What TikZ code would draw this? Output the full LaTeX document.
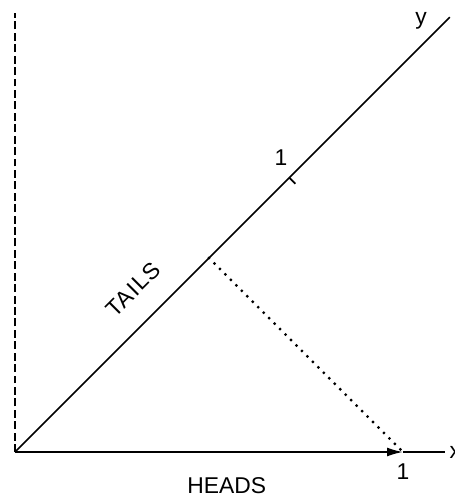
\documentclass[tikz,border=0pt]{standalone}
\usepackage{fontspec}
\setmainfont{Liberation Sans}
\usetikzlibrary{arrows.meta,positioning}

\begin{document}
\begin{tikzpicture}[
  x=7.76cm, y=7.76cm,
  >={Latex[length=3.2mm,width=1.8mm]},
  font=\fontsize{13}{15}\selectfont,
  axis/.style={line width=1pt},
  guide/.style={line width=1.1pt,dash pattern=on 4.5pt off 2pt},
  proj/.style={line width=1.8pt,line cap=round,dash pattern=on 0pt off 4.4pt},
  axislabel/.style={inner sep=1pt},
  numlabel/.style={inner sep=1pt}
]
\useasboundingbox (-0.3cm,-0.94cm) rectangle (8.78cm,9.04cm);

\coordinate (origin) at (0,0);
\coordinate (unitx) at (1,0);
\coordinate (xend) at (8.6cm,0);
\coordinate (vtop) at (0,8.78cm);
\coordinate (yend) at (45:1.585);
\coordinate (tick1) at (45:1);
\coordinate (tickend) at ([shift={(-45:0.17cm)}]tick1);
\coordinate (foot) at (45:0.7071);

\draw[guide] (origin) -- (vtop);
\draw[axis,->] (origin) -- node[axislabel,pos=0.546,below=0.46cm] (heads) {HEADS} (unitx);
\draw[axis] (unitx) -- (xend);
\draw[axis] (origin) -- node[axislabel,sloped,pos=0.323,above=0.41cm] (tails) {\addfontfeatures{LetterSpace=6}TAILS} (yend);
\draw[axis] (tick1) -- (tickend);
\draw[proj] (foot) -- (unitx);

\node[numlabel,below=0.2cm of unitx] (onex) {1};
\node[numlabel,above left=0.2cm and 0cm of tick1] (oney) {1};
\node[axislabel,left=0.42cm of yend,yshift=-0.08cm] (ylabel) {y};
\node[axislabel,right=0.05cm of xend] (xlabel) {x};
\end{tikzpicture}
\end{document}
